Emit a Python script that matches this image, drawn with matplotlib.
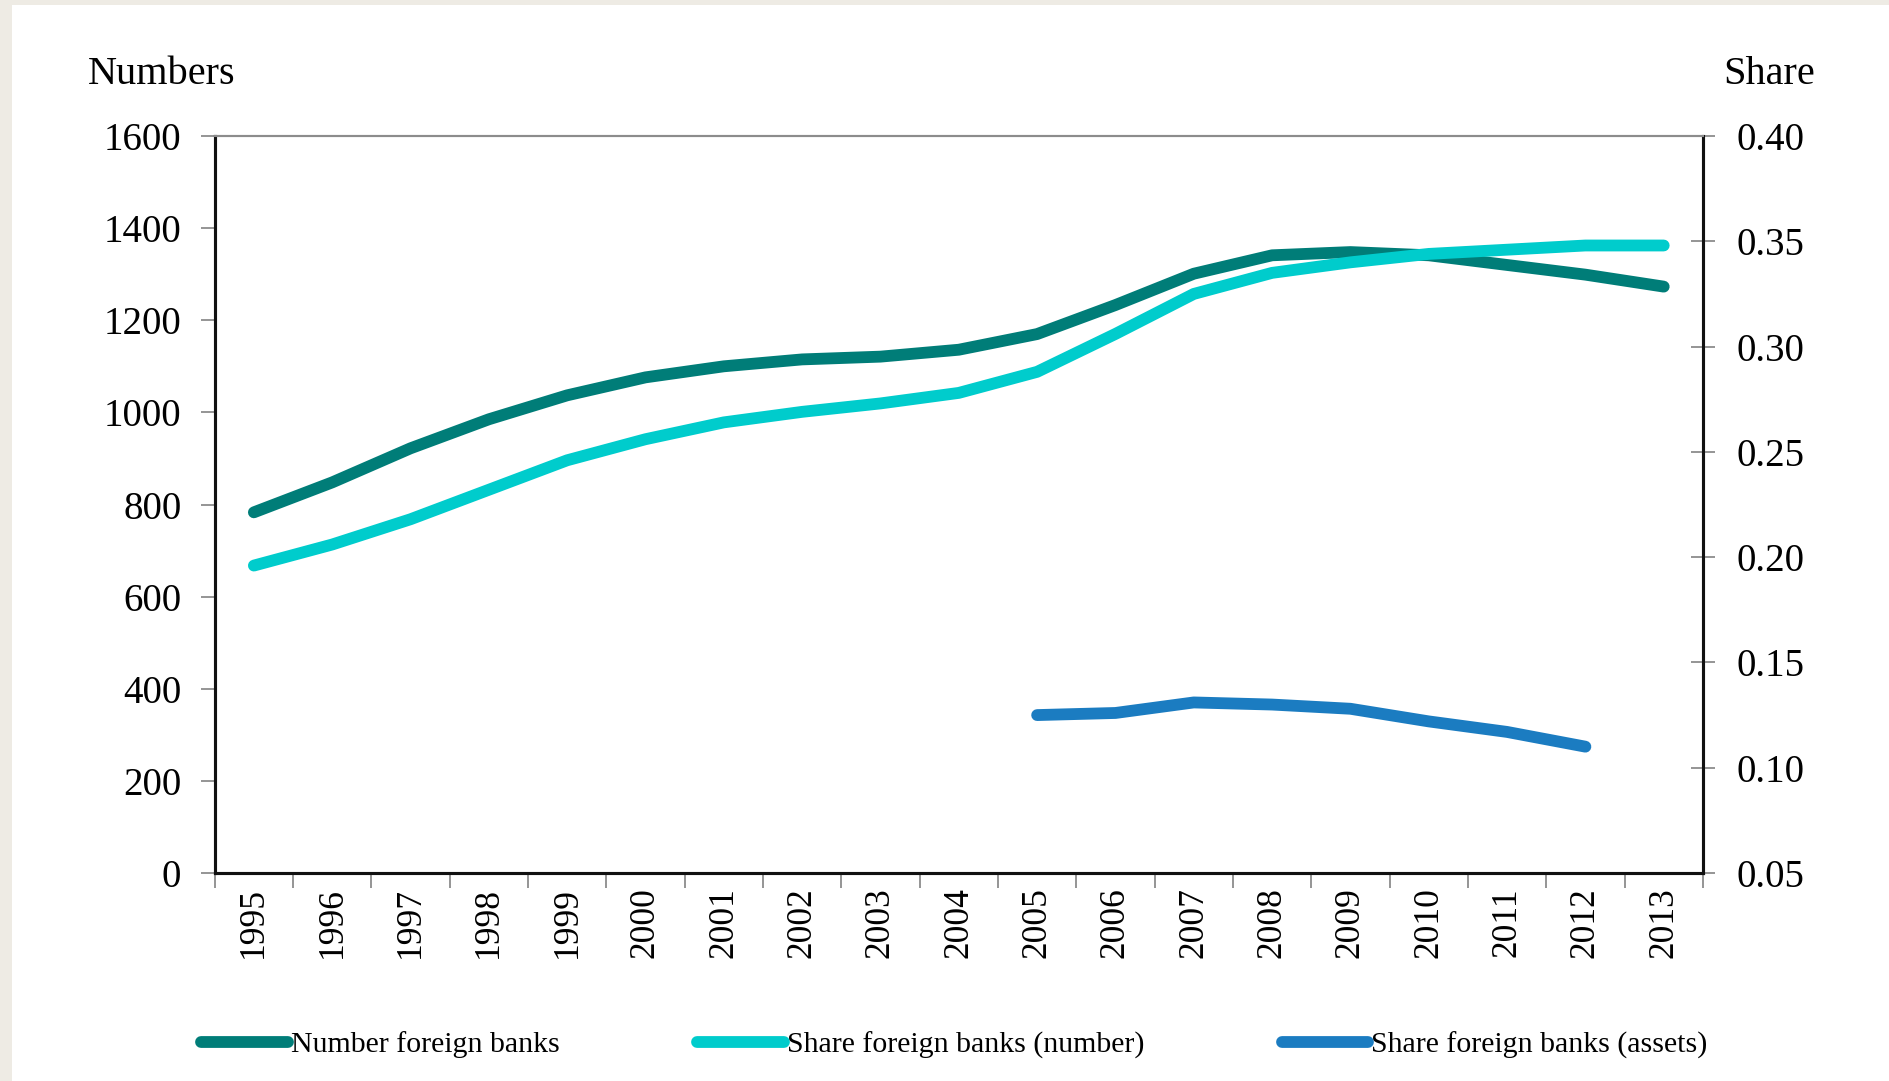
import matplotlib
matplotlib.use("Agg")
import matplotlib.pyplot as plt
import numpy as np

years = [str(y) for y in range(1995, 2014)]

# number of foreign banks (left axis)
number_foreign = [783, 848, 922, 985, 1037, 1076, 1100, 1115, 1121, 1136,
                  1170, 1233, 1301, 1341, 1348, 1341, 1320, 1299, 1273]

# share of foreign banks in number (right axis)
share_number = [0.196, 0.206, 0.218, 0.232, 0.246, 0.256, 0.264, 0.269, 0.273, 0.278,
                0.288, 0.306, 0.325, 0.335, 0.340, 0.344, 0.346, 0.348, 0.348]

# share of foreign banks in assets, 2005-2012 only
assets_years = [str(y) for y in range(2005, 2013)]
share_assets = [0.125, 0.126, 0.131, 0.130, 0.128, 0.122, 0.117, 0.110]

TEAL = "#007d78"
CYAN = "#00cccc"
BLUE = "#1b7cc1"
GRAY = "#8c8c8c"

plt.rcParams['font.family'] = ['Liberation Serif', 'DejaVu Serif']

fig = plt.figure(figsize=(18.9, 10.81), dpi=100, facecolor="#eeebe4")
# white panel, beige strip left and top
fig.patches.append(plt.Rectangle((12 / 1890, 0), 1, 1 - 5 / 1081, transform=fig.transFigure,
                                 facecolor="white", edgecolor="none", zorder=-5))

ax = fig.add_axes([0.1136, 0.1924, 0.901 - 0.1136, 0.8742 - 0.1924])
ax.set_facecolor("white")
ax2 = ax.twinx()

x = np.arange(len(years))
xa = np.array([years.index(y) for y in assets_years])

LW = 8.5
l1, = ax.plot(x, number_foreign, color=TEAL, lw=LW, solid_capstyle="round",
              solid_joinstyle="round", label="Number foreign banks")
l2, = ax2.plot(x, share_number, color=CYAN, lw=LW, solid_capstyle="round",
               solid_joinstyle="round", label="Share foreign banks (number)")
l3, = ax2.plot(xa, share_assets, color=BLUE, lw=LW, solid_capstyle="round",
               solid_joinstyle="round", label="Share foreign banks (assets)")

ax.set_xlim(-0.5, len(years) - 0.5)
ax.set_ylim(0, 1600)
ax.set_yticks(np.arange(0, 1601, 200))
ax2.set_ylim(0.05, 0.40)
ax2.set_yticks(np.arange(0.05, 0.401, 0.05))
ax2.set_yticklabels(["%.2f" % v for v in np.arange(0.05, 0.401, 0.05)])

ax.set_xticks(x)
ax.set_xticklabels(years, rotation=90, fontsize=25.5, va="top")
ax.set_xticks(np.arange(-0.5, len(years), 1), minor=True)
ax.tick_params(axis="x", which="major", length=0, pad=10)
ax.tick_params(axis="x", which="minor", length=11, width=1.3, color=GRAY, direction="out")
ax.tick_params(axis="y", length=10, width=1.3, color=GRAY, direction="out",
               labelsize=28, pad=14)
ax2.tick_params(axis="y", length=17, width=1.3, color=GRAY, direction="inout",
                labelsize=28, pad=16)

for a in (ax, ax2):
    for s in ("left", "right", "bottom"):
        a.spines[s].set_color("#111111")
        a.spines[s].set_linewidth(2.2)
    a.spines["top"].set_color(GRAY)
    a.spines["top"].set_linewidth(1.5)

fig.text(88 / 1890, 1 - 74 / 1081, "Numbers", fontsize=29, ha="left", va="center")
fig.text(1815 / 1890, 1 - 74 / 1081, "Share", fontsize=29, ha="right", va="center")

leg = fig.legend(handles=[l1, l2, l3], loc="center", ncol=3,
                 bbox_to_anchor=(0.505, 36 / 1081), frameon=False, fontsize=21.5,
                 handlelength=2.9, handletextpad=0.1, columnspacing=4.6)

fig.savefig("out.png", dpi=100, facecolor=fig.get_facecolor())
